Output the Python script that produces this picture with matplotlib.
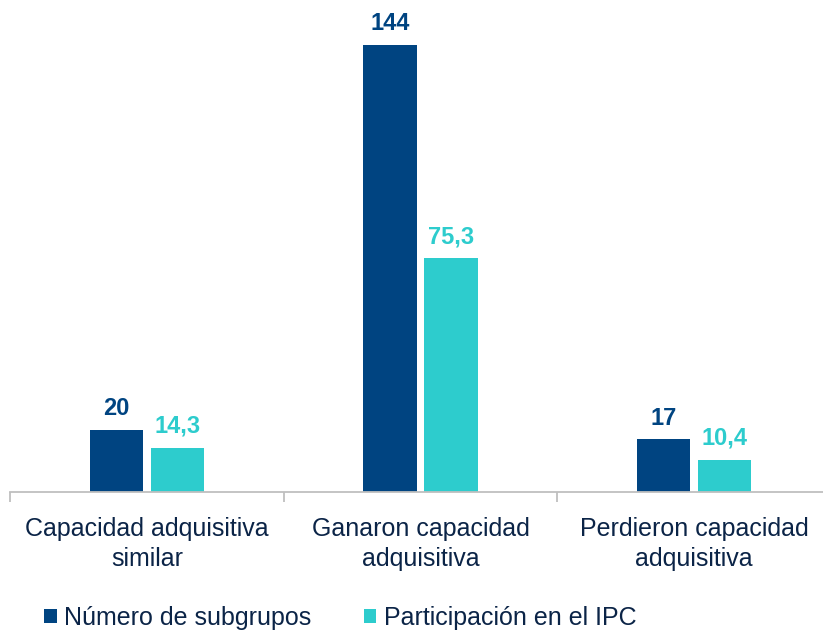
import matplotlib
matplotlib.use("Agg")
import matplotlib.pyplot as plt
from matplotlib.patches import Patch

categories = ["Capacidad adquisitiva\nsimilar", "Ganaron capacidad\nadquisitiva", "Perdieron capacidad\nadquisitiva"]
subgrupos = [20, 144, 17]
participacion = [14.3, 75.3, 10.4]
subgrupos_labels = ["20", "144", "17"]
participacion_labels = ["14,3", "75,3", "10,4"]
series_names = ["Número de subgrupos", "Participación en el IPC"]

navy = "#004481"
teal = "#2DCCCD"
textc = "#0B2447"

plt.rcParams['font.family'] = ['Liberation Sans', 'DejaVu Sans']

fig = plt.figure(figsize=(8.23, 6.32), dpi=100)
ax = fig.add_axes([10/823, 1 - 492/632, 821/823, 492/632])

w = 0.194
off = 0.1115
xs = list(range(len(categories)))
ax.bar([x - off for x in xs], subgrupos, width=w, color=navy)
ax.bar([x + off for x in xs], participacion, width=w, color=teal)

for x, v, s in zip(xs, subgrupos, subgrupos_labels):
    ax.annotate(s, (x - off, v), xytext=(0, 7), textcoords="offset points",
                ha="center", va="bottom", fontsize=17, fontweight="bold", color=navy)
for x, v, s in zip(xs, participacion, participacion_labels):
    ax.annotate(s, (x + off, v), xytext=(0, 7), textcoords="offset points",
                ha="center", va="bottom", fontsize=17, fontweight="bold", color=teal)

ax.set_xlim(-0.5, 2.5)
ax.set_ylim(0, 158.5)
for sp in ["top", "right", "left"]:
    ax.spines[sp].set_visible(False)
ax.spines["bottom"].set_color("#BFBFBF")
ax.spines["bottom"].set_linewidth(1.3)
ax.set_yticks([])
ax.set_xticks([-0.5, 0.5, 1.5, 2.5])
ax.set_xticklabels([])
ax.tick_params(axis="x", which="major", length=7, width=1.3, color="#BFBFBF", direction="out")
ax.set_xticks(xs, minor=True)
ax.set_xticklabels(categories, minor=True, fontsize=18, color=textc, linespacing=1.3)
ax.tick_params(axis="x", which="minor", length=0, pad=18)

handles = [Patch(facecolor=navy), Patch(facecolor=teal)]
fig.legend(handles, series_names, loc="center left", bbox_to_anchor=(44/823, 1 - 618/632),
           ncol=2, frameon=False, fontsize=18, labelcolor=textc,
           borderpad=0, borderaxespad=0,
           handlelength=0.5, handleheight=0.5, handletextpad=0.3, columnspacing=2.1)

fig.savefig("out.png", dpi=100)
